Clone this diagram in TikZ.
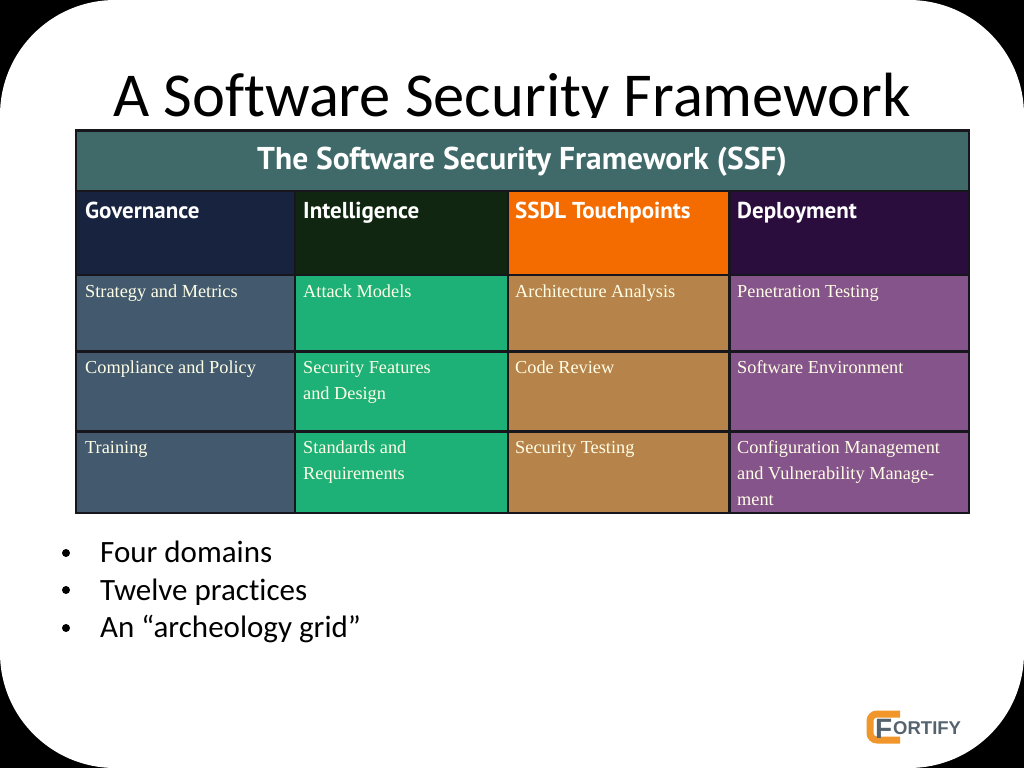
\documentclass[tikz,border=0pt]{standalone}
\usepackage{fontspec}
\setmainfont[Ligatures={NoCommon}]{Carlito}
\newfontfamily\headfont{PT Sans}
\newfontfamily\bodyfont[Ligatures={NoCommon}]{Liberation Serif}
\newfontfamily\logofont{Liberation Sans}
\definecolor{ssfteal}{HTML}{3F6A69}
\definecolor{ssfnavy}{HTML}{17233F}
\definecolor{ssfforest}{HTML}{112611}
\definecolor{ssforange}{HTML}{F46C00}
\definecolor{ssfplum}{HTML}{2B0D3D}
\definecolor{ssfslate}{HTML}{435A6E}
\definecolor{ssfgreen}{HTML}{1DB077}
\definecolor{ssfbrown}{HTML}{B6844B}
\definecolor{ssfpurple}{HTML}{85548A}
\definecolor{ssfline}{HTML}{16161C}
\definecolor{logogrey}{HTML}{55636F}
\definecolor{logoorange}{HTML}{F0962A}
\tikzset{
    headtext/.style={anchor=base west, inner sep=0pt, text=white, font=\headfont\fontsize{23}{26}\selectfont\bfseries},
    celltext/.style={anchor=base west, inner sep=0pt, text=white!90!yellow, align=left, font=\bodyfont\fontsize{18.3}{26}\selectfont},
    bullettext/.style={anchor=base west, inner sep=0pt, font=\fontsize{31}{36}\selectfont},
    bulletdot/.style={circle, fill=black, inner sep=0pt, minimum size=8pt}
}
% one coloured box of the grid: name, colour, corners
\newcommand{\gridcell}[6]{\node[fill=#2, inner sep=0pt, anchor=north west, minimum width=#5pt-#3pt, minimum height=#6pt-#4pt] (#1) at (#3,#4) {};}
\begin{document}
\begin{tikzpicture}[x=1pt, y=-1pt]
    \useasboundingbox (0,0) rectangle (1024,768);
    \fill[black] (0,0) rectangle (1024,768);
    \fill[white, rounded corners=115pt] (0,0) rectangle (1024,768);

    % slide title, its tail is cut by the white strip
    \node[anchor=base, inner sep=0pt, font=\fontsize{62.5}{70}\selectfont] (title) at (512,116) {A Software Security Framework};
    \fill[white] (60,118) rectangle (970,130);

    \gridcell{frame}{ssfline}{75}{129}{970}{514}
    \gridcell{ssf}{ssfteal}{77}{132}{968}{190}
    \node[inner sep=0pt, text=white, font=\headfont\fontsize{31.5}{36}\selectfont\bfseries] (ssftext) at (522,162) {The Software Security Framework (SSF)};

    % domains
    \gridcell{gov}{ssfnavy}{77}{192}{294}{274}
    \gridcell{intel}{ssfforest}{296}{192}{507}{274}
    \gridcell{ssdl}{ssforange}{509}{192}{728}{274}
    \gridcell{depl}{ssfplum}{731}{192}{968}{274}
    \node[headtext] (govtext) at (85,218) {Governance};
    \node[headtext] (inteltext) at (303,218) {Intelligence};
    \node[headtext] (ssdltext) at (515,218) {SSDL Touchpoints};
    \node[headtext] (depltext) at (737,218) {Deployment};

    % practices
    \foreach \cname/\cfill/\xa/\xb in {a/ssfslate/77/294, b/ssfgreen/296/507, c/ssfbrown/509/728, d/ssfpurple/731/968} {
        \gridcell{\cname one}{\cfill}{\xa}{276}{\xb}{350}
        \gridcell{\cname two}{\cfill}{\xa}{353}{\xb}{430}
        \gridcell{\cname three}{\cfill}{\xa}{433}{\xb}{512}
    }
    % base of a node with several lines is its last line
    \node[celltext] (strategy) at (85,297) {Strategy and Metrics};
    \node[celltext] (attack) at (303,297) {Attack Models};
    \node[celltext] (arch) at (515,297) {Architecture Analysis};
    \node[celltext] (pen) at (737,297) {Penetration Testing};
    \node[celltext] (compliance) at (85,373) {Compliance and Policy};
    \node[celltext] (features) at (303,399) {Security Features\\and Design};
    \node[celltext] (review) at (515,373) {Code Review};
    \node[celltext] (environ) at (737,373) {Software Environment};
    \node[celltext] (training) at (85,453) {Training};
    \node[celltext] (standards) at (303,479) {Standards and\\Requirements};
    \node[celltext] (testing) at (515,453) {Security Testing};
    \node[celltext] (config) at (737,505) {Configuration Management\\and Vulnerability Manage-\\ment};

    % bullets
    \node[bulletdot] (dotone) at (66,553) {};
    \node[bullettext] (four) at (100,562) {Four domains};
    \node[bulletdot] (dottwo) at (66,590) {};
    \node[bullettext] (twelve) at (100,600) {Twelve practices};
    \node[bulletdot] (dotthree) at (66,628) {};
    \node[bullettext] (archeology) at (100,637) {An “archeology grid”};

    % logo
    \draw[logoorange, line width=7pt, rounded corners=7pt] (900,714) -- (870,714) -- (870,740) -- (900,740);
    \node[anchor=base west, inner sep=0pt, text=logogrey, font=\logofont\fontsize{28}{30}\selectfont\bfseries] (logof) at (875,738) {F};
    \node[anchor=base west, inner sep=0pt, text=logogrey, font=\logofont\fontsize{18.5}{20}\selectfont\bfseries] (logotext) at (893,734) {ORTIFY};
\end{tikzpicture}
\end{document}
